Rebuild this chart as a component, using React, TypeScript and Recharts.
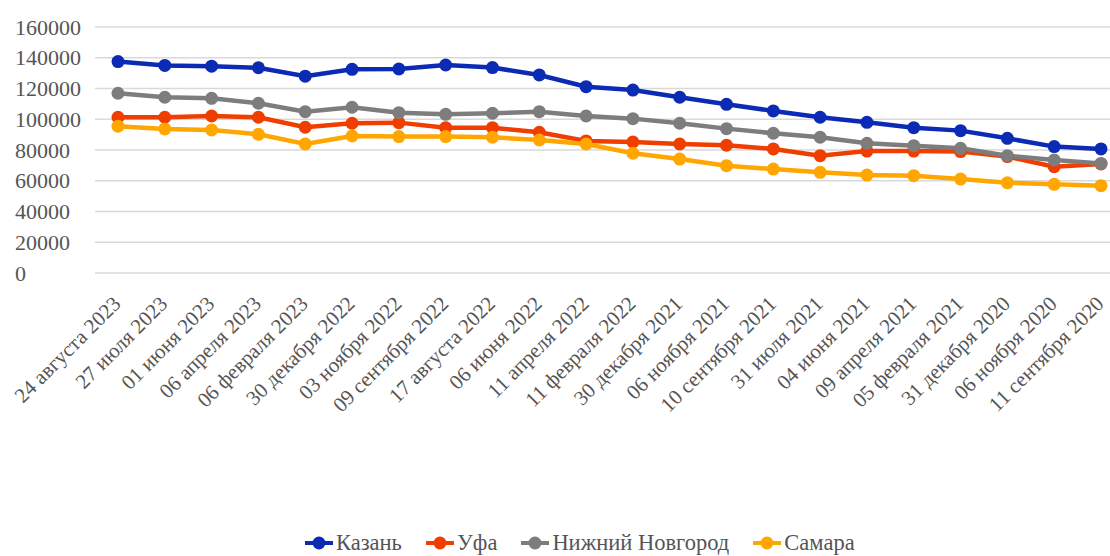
import { LineChart, Line, XAxis, YAxis, CartesianGrid } from 'recharts';

const dates = [
  '24 августа 2023', '27 июля 2023', '01 июня 2023', '06 апреля 2023', '06 февраля 2023',
  '30 декабря 2022', '03 ноября 2022', '09 сентября 2022', '17 августа 2022', '06 июня 2022',
  '11 апреля 2022', '11 февраля 2022', '30 декабря 2021', '06 ноября 2021', '10 сентября 2021',
  '31 июля 2021', '04 июня 2021', '09 апреля 2021', '05 февраля 2021', '31 декабря 2020',
  '06 ноября 2020', '11 сентября 2020',
];

const kazan = [137500, 135000, 134500, 133500, 128000, 132500, 132700, 135300, 133600, 128800, 121200, 119000, 114300, 109700, 105400, 101300, 98000, 94500, 92600, 87600, 82200, 80700];
const ufa = [101300, 101300, 102100, 101300, 94800, 97400, 97800, 94500, 94500, 91500, 85900, 85200, 83900, 83100, 80700, 76300, 79300, 79300, 79000, 75700, 69100, 70900];
const nizhny = [116900, 114300, 113600, 110400, 104900, 107800, 104300, 103200, 103900, 104900, 102100, 100400, 97400, 93900, 90900, 88300, 84400, 82800, 81100, 76300, 73500, 71300];
const samara = [95500, 93700, 93000, 90200, 83900, 89100, 88700, 88700, 88300, 86500, 83900, 77900, 74100, 69800, 67600, 65500, 63700, 63300, 61100, 58700, 57700, 56800];

const yTicks = [0, 20000, 40000, 60000, 80000, 100000, 120000, 140000, 160000];

const series = [
  { key: 'kazan', name: 'Казань', color: '#0b2bb4' },
  { key: 'ufa', name: 'Уфа', color: '#f03d00' },
  { key: 'nizhny', name: 'Нижний Новгород', color: '#7d7d7d' },
  { key: 'samara', name: 'Самара', color: '#ffa600' },
];

const rows = dates.map((date, i) => ({
  date,
  kazan: kazan[i],
  ufa: ufa[i],
  nizhny: nizhny[i],
  samara: samara[i],
}));

const FONT = '"Liberation Serif", "Times New Roman", serif';
const TEXT = '#555555';

function YTick({ y, payload }: any) {
  return (
    <text x={15} y={y} dy="0.35em" textAnchor="start" fontSize={22} fontFamily={FONT} fill={TEXT}>
      {payload.value}
    </text>
  );
}

function XTick({ x, payload }: any) {
  const ax = x + 4;
  const ay = 305;
  return (
    <text
      x={ax}
      y={ay}
      textAnchor="end"
      fontSize={21}
      fontFamily={FONT}
      fill={TEXT}
      transform={`rotate(-45, ${ax}, ${ay})`}
    >
      {payload.value}
    </text>
  );
}

function LegendIcon({ color }: { color: string }) {
  return (
    <svg width={28} height={14} style={{ display: 'block' }}>
      <line x1={0} y1={7} x2={28} y2={7} stroke={color} strokeWidth={4} />
      <circle cx={14} cy={7} r={6.5} fill={color} />
    </svg>
  );
}

export default function App() {
  return (
    <div
      style={{
        position: 'absolute',
        left: 0,
        top: 0,
        width: 1110,
        height: 556,
        overflow: 'hidden',
        background: '#fff',
      }}
    >
      <LineChart width={1130} height={556} data={rows} margin={{ top: 27, right: 6, left: 0, bottom: 0 }}>
        <CartesianGrid vertical={false} stroke="#d9d9d9" strokeWidth={1.5} />
        <XAxis
          dataKey="date"
          interval={0}
          axisLine={false}
          tickLine={false}
          height={283}
          padding={{ left: 23, right: 23 }}
          tick={<XTick />}
        />
        <YAxis
          width={95}
          domain={[0, 160000]}
          ticks={yTicks}
          axisLine={false}
          tickLine={false}
          tick={<YTick />}
        />
        {series.map((s) => (
          <Line
            key={s.key}
            dataKey={s.key}
            name={s.name}
            stroke={s.color}
            strokeWidth={4.5}
            dot={{ r: 6.5, fill: s.color, stroke: s.color, strokeWidth: 0 }}
            activeDot={false}
            isAnimationActive={false}
          />
        ))}
      </LineChart>
      <div
        style={{
          position: 'absolute',
          left: 305,
          top: 530,
          display: 'flex',
          alignItems: 'center',
          fontFamily: FONT,
          fontSize: 22.5,
          color: TEXT,
          whiteSpace: 'nowrap',
        }}
      >
        {series.map((s) => (
          <div key={s.key} style={{ display: 'flex', alignItems: 'center', marginRight: 24 }}>
            <LegendIcon color={s.color} />
            <span style={{ marginLeft: 3 }}>{s.name}</span>
          </div>
        ))}
      </div>
    </div>
  );
}
